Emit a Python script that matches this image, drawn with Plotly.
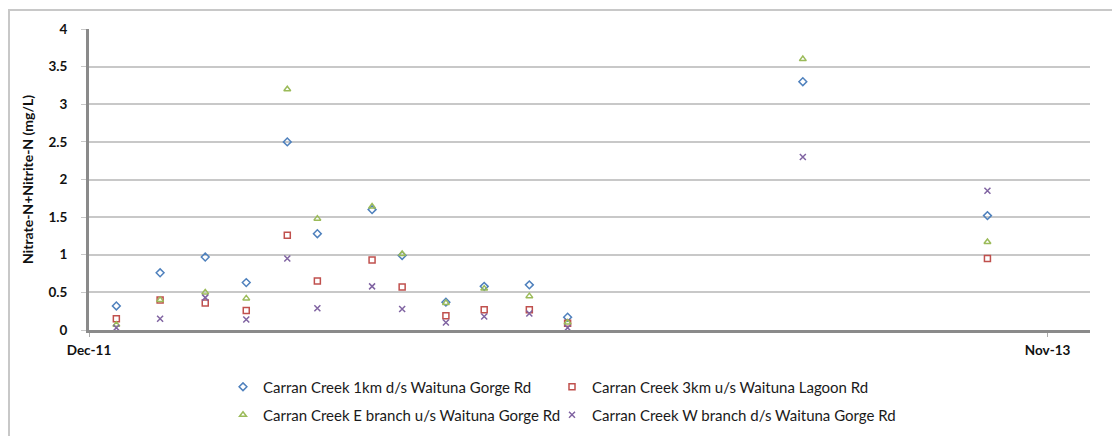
import plotly.graph_objects as go

dates = ["2011-12-21", "2012-01-22", "2012-02-24", "2012-03-25", "2012-04-24",
         "2012-05-16", "2012-06-25", "2012-07-17", "2012-08-18", "2012-09-15",
         "2012-10-18", "2012-11-15", "2013-05-06", "2013-09-18"]

site_1km = [0.32, 0.76, 0.97, 0.63, 2.50, 1.28, 1.60, 0.99, 0.37, 0.58, 0.60, 0.17, 3.30, 1.52]
site_3km = [0.15, 0.40, 0.36, 0.26, 1.26, 0.65, 0.93, 0.57, 0.19, 0.27, 0.27, 0.09, None, 0.95]
site_e_branch = [0.07, 0.40, 0.50, 0.42, 3.20, 1.48, 1.64, 1.01, 0.36, 0.55, 0.45, 0.10, 3.60, 1.17]
site_w_branch = [0.03, 0.15, 0.43, 0.14, 0.95, 0.29, 0.58, 0.28, 0.10, 0.18, 0.22, 0.03, 2.30, 1.85]

names = ["Carran Creek 1km d/s Waituna Gorge Rd",
         "Carran Creek 3km u/s Waituna Lagoon Rd",
         "Carran Creek E branch u/s Waituna Gorge Rd",
         "Carran Creek W branch d/s Waituna Gorge Rd"]

x_ticks = ["2011-12-01", "2013-11-01"]
x_tick_labels = ["Dec-11", "Nov-13"]

FONT = "Lato"

fig = go.Figure()
styles = [
    (site_1km, "diamond-open", "#4F81BD", "legend"),
    (site_3km, "square-open", "#C0504D", "legend2"),
    (site_e_branch, "triangle-up-open", "#9BBB59", "legend3"),
    (site_w_branch, "x-thin-open", "#8064A2", "legend4"),
]
for (vals, sym, col, leg), name in zip(styles, names):
    fig.add_trace(go.Scatter(
        x=dates, y=vals, mode="markers", name=name, legend=leg, showlegend=True,
        marker=dict(symbol=sym, size=6, color=col, line=dict(color=col, width=1.5)),
    ))

# page has an 8px body margin, so figure coords = page coords - 8
W, H = 1112, 428
L, R, T, B = 81, 30, 21, 106
pw = W - L - R
ph = H - T - B

def py(p):
    return (H - B - p) / ph

def px(p):
    return (p - L) / pw

legend_common = dict(
    orientation="h", xanchor="left", yanchor="middle",
    font=dict(family=FONT, size=15, color="#1a1a1a"),
    itemwidth=30, bgcolor="rgba(0,0,0,0)",
)

fig.update_layout(
    width=W, height=H, showlegend=True,
    margin=dict(l=L, r=R, t=T, b=B, autoexpand=False),
    paper_bgcolor="white", plot_bgcolor="white",
    font=dict(family=FONT, size=13.5, color="#111111"),
    legend=dict(x=px(215), y=py(379), **legend_common),
    legend2=dict(x=px(544), y=py(379), **legend_common),
    legend3=dict(x=px(215), y=py(407), **legend_common),
    legend4=dict(x=px(544), y=py(407), **legend_common),
    xaxis=dict(
        type="date", range=["2011-12-01", "2013-12-02"],
        tickvals=x_ticks, ticktext=x_tick_labels,
        showgrid=False, zeroline=False,
        showline=True, linecolor="#8a8a8a", linewidth=3,
        ticks="outside", ticklen=4, tickcolor="#aaaaaa", tickwidth=1,
        ticklabelstandoff=2,
        tickfont=dict(family=FONT, size=13.5, color="#111111", weight="bold"),
    ),
    yaxis=dict(
        range=[0, 4], dtick=0.5, tick0=0,
        showgrid=True, gridcolor="#c8c8c8", gridwidth=2,
        zeroline=False,
        showline=True, linecolor="#8a8a8a", linewidth=3,
        ticks="outside", ticklen=5, tickcolor="#c8c8c8", tickwidth=1,
        ticklabelstandoff=11,
        tickfont=dict(family=FONT, size=13.5, color="#111111", weight="bold"),
        title=dict(text="Nitrate-N+Nitrite-N (mg/L)", standoff=12,
                   font=dict(family=FONT, size=14, color="#111111", weight="bold")),
    ),
    shapes=[
        dict(type="line", xref="paper", yref="paper",
             x0=px(0), x1=px(W), y0=py(2), y1=py(2),
             line=dict(color="#c8c8c8", width=2)),
        dict(type="line", xref="paper", yref="paper",
             x0=px(1), x1=px(1), y0=py(2), y1=py(H),
             line=dict(color="#c8c8c8", width=2)),
    ],
)

fig.write_html("out.html")
